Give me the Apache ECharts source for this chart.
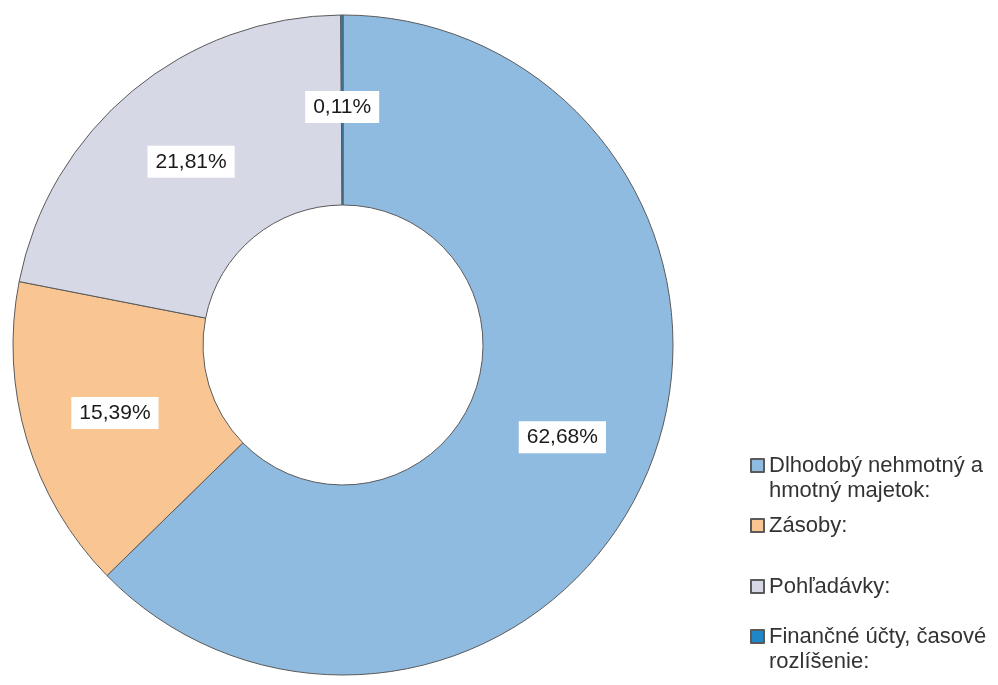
<!DOCTYPE html>
<html>
<head>
<meta charset="utf-8">
<script src="https://cdn.jsdelivr.net/npm/echarts@6/dist/echarts.min.js"></script>
<style>
  html, body { margin: 0; padding: 0; background: #fff; }
  #chart { width: 998px; height: 685px; }
</style>
</head>
<body>
<div id="chart"></div>
<script>
// kategórie a podiely (%)
var categories = ['Dlhodobý nehmotný a\nhmotný majetok:', 'Zásoby:', 'Pohľadávky:', 'Finančné účty, časové\nrozlíšenie:'];
var shares = [62.68, 15.39, 21.81, 0.11];
var colors = ['#90bbe0', '#f9c693', '#d6d8e6', '#1f86c8'];
var legendTops = [428, 513, 574, 599];

(function () {
  var myChart = echarts.init(document.getElementById('chart'));

  // každá položka legendy zvlášť, aby sedeli rozostupy
  var legends = categories.map(function (name, i) {
    return {
      data: [name],
      left: 750,
      top: legendTops[i],
      padding: 0,
      orient: 'vertical',
      icon: 'rect',
      itemWidth: 13,
      itemHeight: 13,
      selectedMode: false,
      // ikonka má byť pri prvom riadku: pri dvojriadkovom texte pridám prázdny riadok navrch
      formatter: function (n) {
        return n.indexOf('\n') >= 0 ? '\u00a0\n' + n : n;
      },
      textStyle: {
        fontFamily: 'Liberation Sans',
        fontSize: 22,
        lineHeight: 25,
        color: '#333'
      }
    };
  });

  var option = {
    color: colors,
    animation: false,
    legend: legends,
    series: [{
      type: 'pie',
      center: [343, 345],
      radius: [140, 330],
      startAngle: 90,
      clockwise: true,
      avoidLabelOverlap: false,
      itemStyle: {
        borderColor: '#5a5a5a',
        borderWidth: 1
      },
      label: {
        show: true,
        position: 'inside',
        formatter: function (p) {
          return p.value.toFixed(2).replace('.', ',') + '%';
        },
        fontFamily: 'Liberation Sans',
        fontSize: 21,
        color: '#1a1a1a',
        backgroundColor: '#fff',
        padding: [6, 8, 5, 8]
      },
      labelLine: { show: false },
      emphasis: { disabled: true },
      data: categories.map(function (name, i) {
        return { name: name, value: shares[i] };
      })
    }]
  };
  myChart.setOption(option);
})();
</script>
</body>
</html>
